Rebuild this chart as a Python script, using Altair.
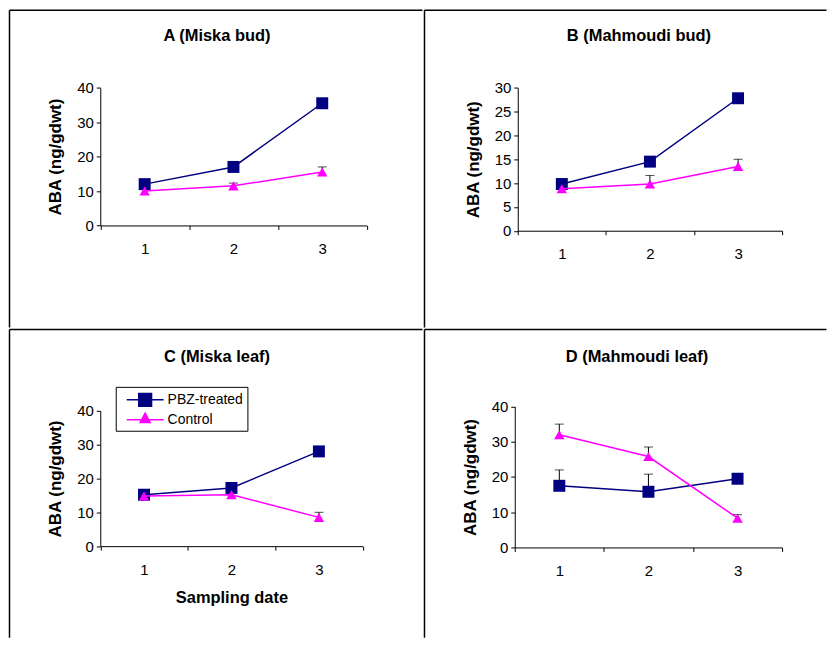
import altair as alt
import pandas as pd

dates = ["1", "2", "3"]
series_names = ["PBZ-treated", "Control"]

# Panel A (Miska bud)
a_pbz = [12.0, 17.0, 35.5]
a_pbz_err = [0.0, 0.0, 0.0]
a_ctrl = [10.0, 11.5, 15.5]
a_ctrl_err = [0.5, 0.8, 1.5]
# Panel B (Mahmoudi bud)
b_pbz = [9.8, 14.5, 27.8]
b_pbz_err = [0.0, 0.0, 0.0]
b_ctrl = [8.8, 9.8, 13.5]
b_ctrl_err = [0.4, 1.8, 1.5]
# Panel C (Miska leaf)
c_pbz = [15.2, 17.2, 28.0]
c_pbz_err = [0.0, 0.0, 0.0]
c_ctrl = [14.8, 15.2, 8.5]
c_ctrl_err = [0.4, 0.5, 1.5]
# Panel D (Mahmoudi leaf)
d_pbz = [17.5, 15.8, 19.5]
d_pbz_err = [4.5, 5.0, 0.3]
d_ctrl = [32.0, 25.8, 8.3]
d_ctrl_err = [3.0, 2.7, 1.0]

FONT = "Liberation Sans"
NAVY = "#000080"
MAGENTA = "#FF00FF"
LEG_SQUARE = "M-0.25,0H4.375M1.2625,-0.8H2.8625V0.8H1.2625Z"
LEG_TRIANGLE = "M-0.25,0H4.375M2.0625,-0.84L2.6875,0.34H1.4375Z"


def frame(pbz, pbz_err, ctrl, ctrl_err):
    rows = []
    for d, v, e in zip(dates, pbz, pbz_err):
        rows.append({"date": d, "value": v, "err": e, "top": v + e, "series": series_names[0]})
    for d, v, e in zip(dates, ctrl, ctrl_err):
        rows.append({"date": d, "value": v, "err": e, "top": v + e, "series": series_names[1]})
    return pd.DataFrame(rows)


def panel(title, title_x, title_y, W, H, df, ymax, ystep, xr, yr, xtitle=None, legend=False):
    xscale = alt.Scale(type="band", domain=dates, range=xr, paddingInner=0, paddingOuter=0)
    yscale = alt.Scale(domain=[0, ymax], range=yr, nice=False, zero=True)
    x_axis = alt.Axis(
        orient="bottom", offset=-(H - yr[0]), tickBand="extent", labelAngle=0,
        labelPadding=12, tickSize=4, grid=False,
        title=xtitle if xtitle else None, titlePadding=12,
        titleFont=FONT, titleFontSize=16.5, titleFontWeight="bold", titleColor="black",
    )
    y_axis = alt.Axis(
        orient="left", offset=-xr[0], values=list(range(0, ymax + 1, ystep)),
        tickSize=4, labelPadding=3, grid=False, title="ABA (ng/gdwt)", titlePadding=12,
        titleFont=FONT, titleFontSize=17, titleFontWeight="bold", titleColor="black",
    )
    X = alt.X("date:O", scale=xscale, axis=x_axis, bandPosition=0.5)
    Xn = alt.X("date:O", scale=xscale, bandPosition=0.5)
    Y = alt.Y("value:Q", scale=yscale, axis=y_axis)
    Yn = alt.Y("value:Q", scale=yscale)

    base = alt.Chart(df)
    errs = base.transform_filter("datum.err > 0")
    err_rule = errs.mark_rule(color="black", strokeWidth=1).encode(
        x=X, y=Y, y2="top:Q")
    err_cap = errs.mark_tick(color="black", thickness=1, size=9).encode(
        x=Xn, y=alt.Y("top:Q", scale=yscale))

    layers = [err_rule, err_cap]
    for s, col, shp, sz in [(series_names[0], NAVY, "square", 144),
                            (series_names[1], MAGENTA, "triangle-up", 110)]:
        sub = base.transform_filter(alt.datum.series == s)
        line = sub.mark_line(color=col, strokeWidth=1.5).encode(x=Xn, y=Yn)
        pts = sub.mark_point(filled=True, opacity=1, size=sz, shape=shp, color=col).encode(
            x=Xn, y=Yn)
        layers += [line, pts]

    if legend:
        leg = alt.Legend(
            title=None, orient="none", legendX=107, legendY=58,
            fillColor="white",
            labelFont=FONT, labelFontSize=14, labelColor="black", labelOffset=30,
            symbolSize=256, symbolOpacity=1, symbolStrokeWidth=1.5,
        )
        cscale = alt.Scale(domain=series_names, range=[NAVY, MAGENTA])
        dummy = base.mark_point(filled=True, opacity=0).encode(
            x=Xn, y=Yn,
            fill=alt.Fill("series:N", scale=cscale, legend=leg),
            stroke=alt.Stroke("series:N", scale=cscale, legend=leg),
            shape=alt.Shape("series:N", scale=alt.Scale(domain=series_names,
                                                        range=[LEG_SQUARE, LEG_TRIANGLE]), legend=leg),
        )
        layers.append(dummy)

    inner = alt.layer(*layers)

    # cell border (table lines): top and left edges of the cell, plus the panel title
    border = base.mark_point(opacity=0).encode(
        x=alt.X("value:Q", scale=alt.Scale(domain=[0, ymax], range=[0, W], nice=False),
                axis=alt.Axis(orient="top", domain=True, domainColor="black", domainWidth=1.5,
                              ticks=False, labels=False, grid=False, offset=0,
                              title=title, titleX=title_x, titleY=title_y, titleAlign="center",
                              titleBaseline="middle", titleAngle=0,
                              titleFont=FONT, titleFontSize=16.5, titleFontWeight="bold",
                              titleColor="black")),
        y=alt.Y("value:Q", scale=alt.Scale(domain=[0, ymax], range=[0, H], nice=False),
                axis=alt.Axis(orient="left", domain=True, domainColor="black", domainWidth=1.5,
                              ticks=False, labels=False, grid=False, offset=0, title=None)),
    )

    return alt.layer(inner, border).resolve_scale(x="independent", y="independent").properties(
        width=W, height=H,
    )


W_LEFT, W_RIGHT = 414, 403
H_TOP, H_BOT = 318, 309

pA = panel("A (Miska bud)", 208, 26, W_LEFT, H_TOP, frame(a_pbz, a_pbz_err, a_ctrl, a_ctrl_err),
           40, 10, [91.5, 358.5], [216.2, 78.2])
pB = panel("B (Mahmoudi bud)", 215, 26, W_RIGHT, H_TOP, frame(b_pbz, b_pbz_err, b_ctrl, b_ctrl_err),
           30, 5, [94, 359], [221.5, 78.2])
pC = panel("C (Miska leaf)", 208, 28, W_LEFT, H_BOT, frame(c_pbz, c_pbz_err, c_ctrl, c_ctrl_err),
           40, 10, [91.5, 354.5], [217.7, 82], xtitle="Sampling date", legend=True)
pD = panel("D (Mahmoudi leaf)", 213, 28, W_RIGHT, H_BOT, frame(d_pbz, d_pbz_err, d_ctrl, d_ctrl_err),
           40, 10, [91, 359], [219, 77.7])

res = dict(fill="independent", stroke="independent", shape="independent")
top = alt.hconcat(pA, pB, spacing=0)
bottom = alt.hconcat(pC, pD, spacing=0).resolve_scale(**res)
chart = alt.vconcat(top, bottom, spacing=0).resolve_scale(**res).properties(
    padding={"left": 0, "top": 0, "right": 0, "bottom": 0},
    background="white",
).configure_view(
    stroke="transparent",
).configure_axis(
    labelFont=FONT, labelFontSize=15, labelColor="black",
    domainColor="black", tickColor="black", domainWidth=1, tickWidth=1,
).configure_legend(
    strokeColor="black", strokeWidth=1, padding=4, rowPadding=0,
)

chart.save("out.html", embed_options={"renderer": "svg", "actions": False})
